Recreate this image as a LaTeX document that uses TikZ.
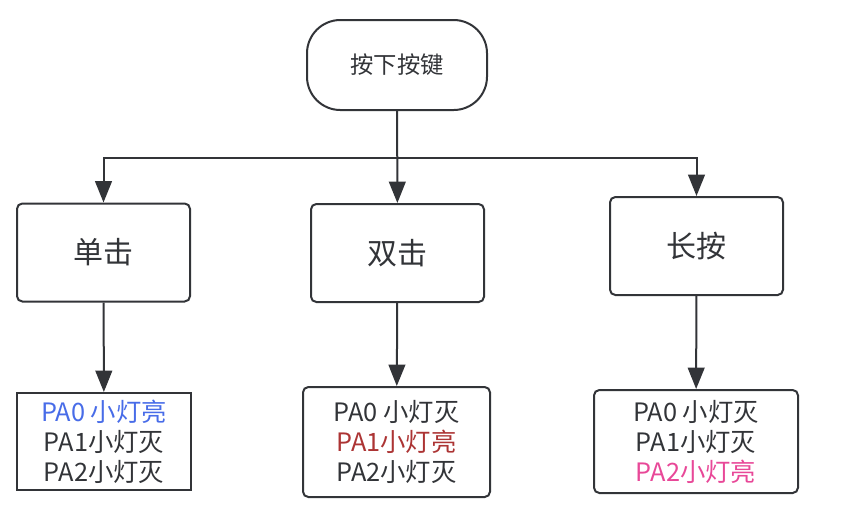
\documentclass[tikz,border=0pt]{standalone}
\usepackage{fontspec}
\setmainfont{Noto Sans CJK SC}
\usepackage{xcolor}
\usepackage{tikz}
\usetikzlibrary{arrows.meta, positioning, calc}

\definecolor{ink}{RGB}{50,52,56}
\definecolor{ledblue}{RGB}{72,108,232}
\definecolor{ledred}{RGB}{172,52,52}
\definecolor{ledpink}{RGB}{232,72,152}

\begin{document}
\begin{tikzpicture}[
  x=0.75pt, y=-0.75pt,
  box/.style={draw=ink, line width=1.5pt, rounded corners=4pt, align=center,
              inner sep=0pt, text=ink},
  start/.style={box, rounded corners=25pt, minimum width=135pt,
                minimum height=67.5pt, font=\fontsize{17.5}{21}\selectfont},
  mode/.style={box, minimum width=129.75pt, minimum height=73.5pt,
               font=\fontsize{22.5}{26}\selectfont},
  led/.style={box, font=\fontsize{19}{22.5}\selectfont},
  ar/.style={-{Triangle[length=16pt, width=12.5pt]}, draw=ink, line width=1.5pt}
]
\useasboundingbox (0,0) rectangle (841,526);
\node[start] at (397,65) (press) {按下按键};
\coordinate (split) at (397,158);
\node[mode] at (103.5,252.5) (single) {单击};
\node[mode] at (397.5,253)   (double) {双击};
\node[mode] at (696.5,246)   (long)   {长按};
\node[led, rounded corners=0pt, minimum width=130.5pt, minimum height=72.75pt]
     at (104,441.5) (single-led)
     {\textcolor{ledblue}{PA0 小灯亮}\\PA1小灯灭\\PA2小灯灭};
\node[led, minimum width=140.25pt, minimum height=82.5pt]
     at (396.5,442) (double-led)
     {PA0 小灯灭\\\textcolor{ledred}{PA1小灯亮}\\PA2小灯灭};
\node[led, minimum width=153pt, minimum height=77.25pt]
     at (696,441.5) (long-led)
     {PA0 小灯灭\\PA1小灯灭\\\textcolor{ledpink}{PA2小灯亮}};
\draw[ar] (press) -- (double);
\draw[ar] (split) -| (single);
\draw[ar] (split) -| (long);
\draw[ar] (single) -- (single-led);
\draw[ar] (double) -- (double-led);
\draw[ar] (long) -- (long-led);
\end{tikzpicture}
\end{document}
